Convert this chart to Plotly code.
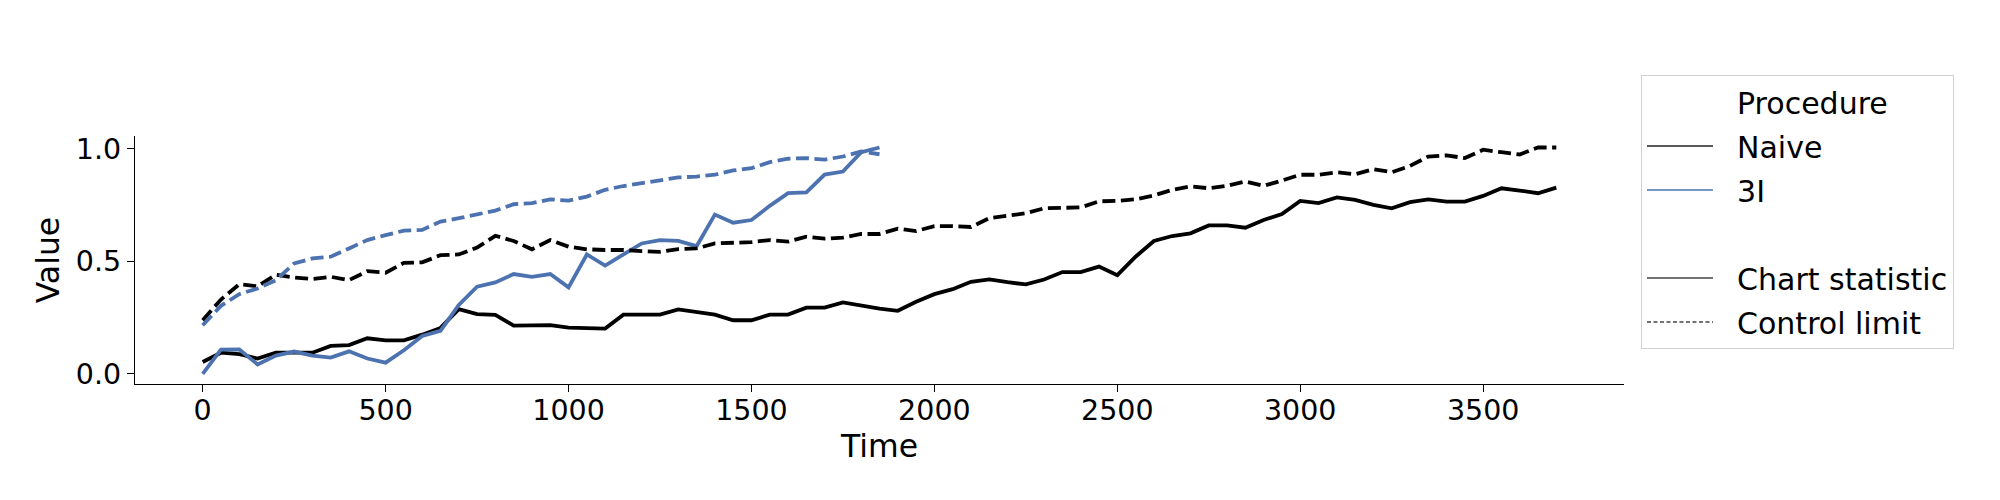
import plotly.graph_objects as go

STEP = 50
naive_time = [i * STEP for i in range(75)]
naive_stat = [0.053, 0.094, 0.088, 0.068, 0.094, 0.094, 0.094, 0.124, 0.128, 0.158,
              0.149, 0.149, 0.174, 0.204, 0.287, 0.265, 0.262, 0.214, 0.216, 0.216,
              0.205, 0.201, 0.201, 0.263, 0.263, 0.263, 0.286, 0.274, 0.263, 0.238,
              0.238, 0.263, 0.263, 0.294, 0.294, 0.317, 0.302, 0.290, 0.280, 0.320,
              0.354, 0.376, 0.409, 0.419, 0.407, 0.397, 0.419, 0.452, 0.452, 0.476,
              0.438, 0.520, 0.590, 0.612, 0.624, 0.659, 0.659, 0.649, 0.683, 0.710,
              0.768, 0.758, 0.783, 0.772, 0.750, 0.735, 0.762, 0.775, 0.765, 0.765,
              0.790, 0.824, 0.814, 0.802, 0.827]
naive_limit = [0.238, 0.330, 0.398, 0.389, 0.440, 0.428, 0.421, 0.431, 0.416, 0.456,
               0.449, 0.493, 0.495, 0.527, 0.530, 0.561, 0.613, 0.590, 0.553, 0.594,
               0.565, 0.553, 0.550, 0.550, 0.545, 0.542, 0.554, 0.557, 0.579, 0.582,
               0.585, 0.594, 0.587, 0.609, 0.600, 0.605, 0.621, 0.621, 0.645, 0.634,
               0.656, 0.656, 0.652, 0.691, 0.701, 0.713, 0.735, 0.737, 0.739, 0.766,
               0.768, 0.775, 0.792, 0.817, 0.832, 0.824, 0.835, 0.854, 0.835, 0.858,
               0.884, 0.884, 0.895, 0.886, 0.909, 0.895, 0.923, 0.965, 0.970, 0.958,
               0.995, 0.984, 0.974, 1.005, 1.005]

i3_time = [i * STEP for i in range(38)]
i3_stat = [0.000, 0.108, 0.109, 0.042, 0.081, 0.099, 0.081, 0.072, 0.100, 0.068,
           0.050, 0.105, 0.168, 0.191, 0.306, 0.387, 0.406, 0.443, 0.431, 0.443,
           0.384, 0.530, 0.481, 0.532, 0.579, 0.594, 0.590, 0.567, 0.707, 0.671,
           0.683, 0.746, 0.802, 0.806, 0.885, 0.898, 0.984, 1.005]
i3_limit = [0.216, 0.302, 0.354, 0.379, 0.416, 0.490, 0.513, 0.520, 0.557, 0.594,
            0.616, 0.636, 0.639, 0.676, 0.691, 0.706, 0.725, 0.753, 0.758, 0.775,
            0.769, 0.787, 0.817, 0.834, 0.846, 0.857, 0.872, 0.876, 0.884, 0.903,
            0.913, 0.940, 0.955, 0.958, 0.951, 0.965, 0.987, 0.975]

x_ticks = [0, 500, 1000, 1500, 2000, 2500, 3000, 3500]
y_ticks = [0.0, 0.5, 1.0]
y_tick_labels = ["0.0", "0.5", "1.0"]

legend_labels = ["Procedure", "Naive", "3I", " ", "Chart statistic", "Control limit"]

BLACK = "#000000"
BLUE = "#4c72b0"
FONT = "DejaVu Sans"
DASH = "13px,5.5px"
PAD = "\u00a0\u00a0"

fig = go.Figure()

series = [
    (naive_time, naive_stat, BLACK, "solid"),
    (i3_time, i3_stat, BLUE, "solid"),
    (naive_time, naive_limit, BLACK, DASH),
    (i3_time, i3_limit, BLUE, DASH),
]
for xs, ys, col, dash in series:
    fig.add_trace(go.Scatter(x=xs, y=ys, mode="lines", showlegend=False,
                             line=dict(color=col, width=3.8, dash=dash),
                             hoverinfo="skip"))

legend_styles = [
    ("#ffffff", 0, "solid"),
    ("#222222", 1.7, "solid"),
    (BLUE, 1.7, "solid"),
    ("#ffffff", 0, "solid"),
    ("#444444", 1.7, "solid"),
    ("#444444", 1.3, "4px,2.5px"),
]
for k, (name, (col, w, dash)) in enumerate(zip(legend_labels, legend_styles)):
    fig.add_trace(go.Scatter(x=[None], y=[None], mode="lines", name=PAD + name,
                             legendgroup=f"g{k}", showlegend=True,
                             line=dict(color=col, width=w, dash=dash)))

axis_common = dict(
    showgrid=False, zeroline=False, showline=True, linecolor="#000000",
    linewidth=1.25, ticks="outside", ticklen=7, tickwidth=1.25,
    tickcolor="#000000", mirror=False,
    tickfont=dict(family=FONT, size=28.5, color="#000000"),
)

# page body has an 8px margin, so the figure is offset by 8px right and down
fig.update_layout(
    width=1992, height=484,
    margin=dict(l=127, r=376, t=128, b=108, autoexpand=False),
    paper_bgcolor="white", plot_bgcolor="white",
    font=dict(family=FONT, color="#000000"),
    xaxis=dict(range=[-185, 3885], tickvals=x_ticks, ticklabelstandoff=-6,
               title=dict(text="Time", font=dict(family=FONT, size=31.5), standoff=8),
               **axis_common),
    yaxis=dict(range=[-0.045, 1.056], tickvals=y_ticks, ticktext=y_tick_labels,
               title=dict(text="Value", font=dict(family=FONT, size=31.5), standoff=6),
               **axis_common),
    legend=dict(x=1.0114, y=1.246, xanchor="left", yanchor="top",
                font=dict(family=FONT, size=30, color="#000000"),
                bordercolor="#d0d0d0", borderwidth=1, bgcolor="rgba(255,255,255,0.8)",
                traceorder="grouped", tracegroupgap=2, itemwidth=66,
                maxheight=400),
)

fig.write_html("out.html")
